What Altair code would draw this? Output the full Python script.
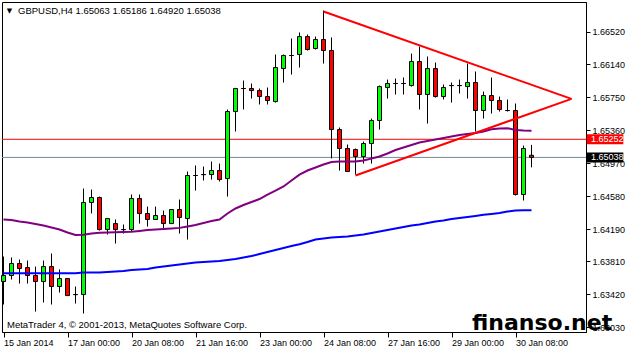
import altair as alt
import pandas as pd

# ---------------- data ----------------
bars = list(range(67))
opens = [1.63571, 1.63642, 1.63784, 1.63736, 1.63642, 1.63571, 1.63748, 1.63512, 1.63606, 1.63417,
         1.63417, 1.64505, 1.64564, 1.64185, 1.64256, 1.64185, 1.64185, 1.64552, 1.64375, 1.64304,
         1.64351, 1.64256, 1.64422, 1.64315, 1.64824, 1.64835, 1.64835, 1.64883, 1.64788, 1.65580,
         1.65852, 1.65852, 1.65828, 1.65757, 1.65698, 1.66088, 1.66242, 1.66254, 1.66466, 1.66325,
         1.66431, 1.66301, 1.65367, 1.65143, 1.65131, 1.65048, 1.65202, 1.65474, 1.65864, 1.65911,
         1.65911, 1.65887, 1.66171, 1.65781, 1.66088, 1.65757, 1.65887, 1.65887, 1.65875, 1.65923,
         1.65592, 1.65769, 1.65710, 1.65592, 1.65592, 1.64599, 1.65063]
highs = [1.63866, 1.63855, 1.63831, 1.63819, 1.63748, 1.63819, 1.63902, 1.63713, 1.63610, 1.63512,
         1.64670, 1.64658, 1.64575, 1.64315, 1.64304, 1.64245, 1.64599, 1.64599, 1.64457, 1.64457,
         1.64410, 1.64422, 1.64540, 1.64871, 1.64942, 1.64930, 1.64989, 1.64965, 1.65604, 1.65852,
         1.65946, 1.65911, 1.65852, 1.65864, 1.66254, 1.66254, 1.66443, 1.66514, 1.66490, 1.66466,
         1.66774, 1.66455, 1.65391, 1.65190, 1.65143, 1.65225, 1.65497, 1.65887, 1.65958, 1.65970,
         1.65982, 1.66265, 1.66348, 1.66230, 1.66159, 1.65899, 1.65923, 1.65958, 1.66147, 1.66053,
         1.65816, 1.65982, 1.65757, 1.65722, 1.65675, 1.65178, 1.65186]
lows = [1.63299, 1.63595, 1.63547, 1.63547, 1.63216, 1.63323, 1.63299, 1.63441, 1.63400, 1.63311,
        1.63193, 1.64375, 1.64174, 1.64126, 1.64020, 1.64138, 1.64162, 1.64256, 1.64221, 1.64300,
        1.64197, 1.64250, 1.64138, 1.64067, 1.64646, 1.64765, 1.64776, 1.64753, 1.64575, 1.65344,
        1.65604, 1.65734, 1.65663, 1.65663, 1.65686, 1.65923, 1.66017, 1.66100, 1.66301, 1.66313,
        1.66147, 1.65025, 1.64883, 1.64865, 1.64835, 1.64965, 1.64965, 1.65367, 1.65734, 1.65781,
        1.65781, 1.65875, 1.65604, 1.65438, 1.65745, 1.65722, 1.65686, 1.65793, 1.65734, 1.65344,
        1.65497, 1.65556, 1.65580, 1.65580, 1.64587, 1.64528, 1.64920]
closes = [1.63642, 1.63784, 1.63725, 1.63642, 1.63571, 1.63748, 1.63512, 1.63606, 1.63405, 1.63417,
          1.64505, 1.64564, 1.64185, 1.64315, 1.64185, 1.64185, 1.64552, 1.64375, 1.64304, 1.64351,
          1.64256, 1.64422, 1.64327, 1.64824, 1.64824, 1.64835, 1.64883, 1.64776, 1.65580, 1.65852,
          1.65852, 1.65828, 1.65757, 1.65710, 1.66100, 1.66242, 1.66242, 1.66466, 1.66313, 1.66431,
          1.66301, 1.65367, 1.65143, 1.64871, 1.65048, 1.65202, 1.65474, 1.65875, 1.65911, 1.65911,
          1.65911, 1.66171, 1.65781, 1.66088, 1.65757, 1.65864, 1.65887, 1.65887, 1.65923, 1.65592,
          1.65769, 1.65710, 1.65604, 1.65592, 1.64599, 1.65143, 1.65038]
ma_purple = [1.64304, 1.64298, 1.64280, 1.64268, 1.64250, 1.64233, 1.64209, 1.64185, 1.64150, 1.64120,
             1.64123, 1.64138, 1.64146, 1.64150, 1.64153, 1.64156, 1.64158, 1.64168, 1.64179, 1.64185,
             1.64191, 1.64197, 1.64205, 1.64221, 1.64239, 1.64262, 1.64286, 1.64304, 1.64375, 1.64434,
             1.64475, 1.64511, 1.64546, 1.64599, 1.64646, 1.64694, 1.64765, 1.64835, 1.64883, 1.64918,
             1.64954, 1.64983, 1.64989, 1.64989, 1.64989, 1.65001, 1.65025, 1.65048, 1.65084, 1.65125,
             1.65155, 1.65184, 1.65214, 1.65231, 1.65249, 1.65267, 1.65285, 1.65302, 1.65314, 1.65326,
             1.65344, 1.65371, 1.65379, 1.65383, 1.65363, 1.65355, 1.65352]
ma_blue = [1.63669, 1.63669, 1.63669, 1.63669, 1.63669, 1.63669, 1.63669, 1.63669, 1.63669, 1.63669,
           1.63677, 1.63677, 1.63677, 1.63683, 1.63689, 1.63695, 1.63707, 1.63713, 1.63719, 1.63736,
           1.63748, 1.63760, 1.63772, 1.63784, 1.63795, 1.63801, 1.63807, 1.63813, 1.63825, 1.63837,
           1.63855, 1.63872, 1.63896, 1.63920, 1.63943, 1.63967, 1.63990, 1.64012, 1.64038, 1.64067,
           1.64079, 1.64091, 1.64097, 1.64103, 1.64115, 1.64126, 1.64144, 1.64162, 1.64179, 1.64197,
           1.64215, 1.64233, 1.64245, 1.64262, 1.64280, 1.64292, 1.64310, 1.64321, 1.64333, 1.64345,
           1.64359, 1.64369, 1.64381, 1.64398, 1.64410, 1.64414, 1.64414]
xlabel_bars = [0, 8, 16, 24, 32, 40, 48, 56, 64]
xlabels = ["15 Jan 2014", "17 Jan 00:00", "20 Jan 08:00", "21 Jan 16:00", "23 Jan 00:00",
           "24 Jan 08:00", "27 Jan 16:00", "29 Jan 00:00", "30 Jan 08:00"]
ylabels = [1.66520, 1.66140, 1.65750, 1.65360, 1.64970, 1.64580, 1.64190, 1.63810, 1.63420, 1.63030]
level_price = 1.65252
bid_price = 1.65038
tri_bar = [40, 71, 44, 71]
tri_price = [1.66762, 1.65730, 1.64824, 1.65730]
tri_seg = ["upper", "upper", "lower", "lower"]
symbol = "GBPUSD,H4"
copyright_text = "MetaTrader 4, \u00a9 2001-2013, MetaQuotes Software Corp."
watermark = "finanso.net"

# ---------------- tables ----------------
df = pd.DataFrame({"bar": bars, "open": opens, "high": highs, "low": lows, "close": closes})
df["lo"] = df["bar"] - 0.25
df["hi"] = df["bar"] + 0.25
df["fillc"] = ["#00ff00" if c > o else ("#ff0000" if c < o else "#000000")
               for o, c in zip(opens, closes)]
doji = df[df["fillc"] == "#000000"]

ma = pd.DataFrame({"bar": bars * 2, "v": ma_purple + ma_blue,
                   "s": ["purple"] * len(bars) + ["blue"] * len(bars),
                   "c": ["#800080"] * len(bars) + ["#0000ff"] * len(bars)})
tri = pd.DataFrame({"bar": tri_bar, "p": tri_price, "seg": tri_seg})
boxes = pd.DataFrame({"p": [level_price, bid_price], "p2": [level_price, bid_price],
                      "lab": [f"{level_price:.5f}", f"{bid_price:.5f}"],
                      "c": ["#ff0000", "#000000"]})
hlines = pd.DataFrame({"p": [level_price, bid_price], "c": ["#ff0000", "#778899"]})
title_text = f"{symbol}  {opens[-1]:.5f} {highs[-1]:.5f} {lows[-1]:.5f} {closes[-1]:.5f}"

FONT = "Liberation Sans"
xs = alt.Scale(domain=[-0.1875, 72.8125], nice=False, zero=False)
ys = alt.Scale(domain=[1.629745, 1.668745], nice=False, zero=False)

label_arr = "[" + ",".join(f"'{s}'" for s in xlabels) + "]"
x_axis = alt.Axis(values=xlabel_bars, labelExpr=f"{label_arr}[round(datum.value/8)]",
                  labelAlign="left", labelBaseline="top", tickSize=5, labelPadding=1,
                  labelFlush=False, labelOverlap=False, grid=False, title=None,
                  labelFont=FONT, labelFontSize=9, labelColor="black",
                  domainColor="black", tickColor="black")
y_axis = alt.Axis(orient="right", values=ylabels, format=".5f", tickSize=4, labelPadding=2,
                  grid=False, title=None, labelFont=FONT, labelFontSize=9, labelColor="black",
                  labelAlign="left", labelBaseline="middle", labelOverlap=False, labelFlush=False,
                  domainColor="black", tickColor="black")


def X(f):
    return alt.X(f, scale=xs, axis=x_axis)


def Y(f):
    return alt.Y(f, scale=ys, axis=y_axis)


hl = alt.Chart(hlines).mark_rule(strokeWidth=1).encode(
    y=Y("p:Q"), color=alt.Color("c:N", scale=None))

wicks = alt.Chart(df).mark_rule(color="black", strokeWidth=1).encode(
    x=X("bar:Q"), y=Y("low:Q"), y2="high:Q")

bodies = alt.Chart(df).mark_rect(stroke="black", strokeWidth=1).encode(
    x=X("lo:Q"), x2="hi:Q", y=Y("open:Q"), y2="close:Q",
    fill=alt.Color("fillc:N", scale=None))

doji_marks = alt.Chart(doji).mark_rule(color="black", strokeWidth=1).encode(
    x=X("lo:Q"), x2="hi:Q", y=Y("open:Q"))

ma_lines = alt.Chart(ma).mark_line(strokeWidth=2).encode(
    x=X("bar:Q"), y=Y("v:Q"), color=alt.Color("c:N", scale=None), detail="s:N")

tri_lines = alt.Chart(tri).mark_line(strokeWidth=2, color="#ff0000").encode(
    x=X("bar:Q"), y=Y("p:Q"), detail="seg:N")

box_rects = alt.Chart(boxes).mark_rect(yOffset=-5, y2Offset=5).encode(
    x=alt.value(584.7), x2=alt.value(621.3),
    y=Y("p:Q"), y2="p2:Q",
    fill=alt.Color("c:N", scale=None))

box_text = alt.Chart(boxes).mark_text(align="left", baseline="middle", color="white",
                                      font=FONT, fontSize=9).encode(
    x=alt.value(589), y=Y("p:Q"), text="lab:N")

tri_icon = alt.Chart(pd.DataFrame({"t": ["\u25bc"]})).mark_text(
    align="center", baseline="middle", fontSize=7, color="black", font="DejaVu Sans").encode(
    x=alt.value(7.5), y=alt.value(8.5), text="t:N")

title_mark = alt.Chart(pd.DataFrame({"t": [title_text]})).mark_text(
    align="left", baseline="middle", fontSize=9.5, color="black", font=FONT).encode(
    x=alt.value(16), y=alt.value(9), text="t:N")

copy_mark = alt.Chart(pd.DataFrame({"t": [copyright_text]})).mark_text(
    align="left", baseline="middle", fontSize=9.5, color="black", font=FONT).encode(
    x=alt.value(5), y=alt.value(322.5), text="t:N")

wm_mark = alt.Chart(pd.DataFrame({"t": [watermark]})).mark_text(
    align="left", baseline="alphabetic", fontSize=22, fontWeight="bold", color="black",
    font="DejaVu Sans").encode(
    x=alt.value(470), y=alt.value(328), text="t:N")

chart = alt.layer(hl, wicks, bodies, doji_marks, ma_lines, tri_lines, box_rects, box_text,
                  tri_icon, title_mark, copy_mark, wm_mark).properties(
    width=584, height=330,
    autosize=alt.AutoSizeParams(type="none"),
    padding={"left": 2, "top": 2, "right": 42, "bottom": 18},
    background="white",
).configure_view(stroke="black", strokeWidth=1)

chart.save("out.html", embed_options={"renderer": "svg", "actions": False})
